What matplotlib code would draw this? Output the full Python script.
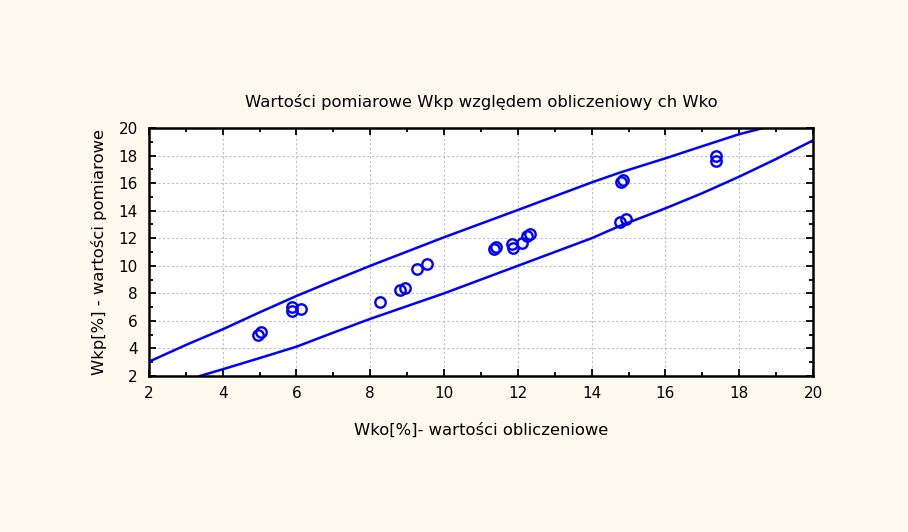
import numpy as np
import matplotlib.pyplot as plt
from matplotlib.ticker import MultipleLocator

# measured vs computed values
wko = [4.95, 5.05, 5.87, 5.87, 6.12, 8.26, 8.80, 8.94, 9.27, 9.53,
       11.35, 11.42, 11.85, 11.87, 12.12, 12.25, 12.32,
       14.80, 14.85, 14.76, 14.93, 17.38, 17.38]
wkp = [4.95, 5.20, 6.72, 6.98, 6.85, 7.39, 8.24, 8.37, 9.75, 10.13,
       11.20, 11.35, 11.56, 11.27, 11.63, 12.15, 12.29,
       16.05, 16.25, 13.20, 13.38, 17.99, 17.60]

# band lines
upper_x = [2.0, 3.0, 4.0, 5.0, 6.0, 7.0, 8.0, 10.0, 12.0, 14.0, 14.76, 16.0, 17.0, 18.0, 18.65]
upper_y = [3.04, 4.25, 5.39, 6.62, 7.81, 8.92, 10.0, 12.07, 14.05, 16.05, 16.76, 17.8, 18.68, 19.55, 20.0]
lower_x = [3.38, 4.0, 5.0, 6.0, 7.0, 8.0, 10.0, 12.0, 14.0, 14.76, 16.0, 17.0, 18.0, 19.0, 20.0]
lower_y = [2.0, 2.49, 3.3, 4.13, 5.15, 6.15, 8.0, 10.0, 12.0, 12.89, 14.17, 15.27, 16.47, 17.75, 19.1]

bg = '#fef9ee'
plt.rcParams['font.family'] = ['DejaVu Sans']

fig = plt.figure(figsize=(9.08, 5.32), dpi=100, facecolor=bg)
ax = fig.add_axes([0.164, 0.2932, 0.7314, 0.4662])
ax.set_facecolor('white')

ax.plot(upper_x, upper_y, color='#0000ff', lw=1.8)
ax.plot(lower_x, lower_y, color='#0000ff', lw=1.8)
ax.plot(wko, wkp, 'o', ms=7.5, mfc='none', mec='#0000ff', mew=1.7)

ax.set_xlim(2, 20)
ax.set_ylim(2, 20)
ax.xaxis.set_major_locator(MultipleLocator(2))
ax.xaxis.set_minor_locator(MultipleLocator(1))
ax.yaxis.set_major_locator(MultipleLocator(2))
ax.yaxis.set_minor_locator(MultipleLocator(1))
ax.tick_params(which='both', direction='in', top=True, right=True,
               labelsize=11, colors='black', width=1.3)
ax.tick_params(which='major', length=5, pad=7)
ax.tick_params(axis='y', which='major', pad=8)
ax.tick_params(which='minor', length=3)
ax.grid(True, which='major', color='#c0c0c0', lw=0.8, ls=(0, (2, 2)))
for s in ax.spines.values():
    s.set_linewidth(1.8)

ax.set_title('Wartości pomiarowe Wkp względem obliczeniowy ch Wko', fontsize=11.8, pad=15)
ax.set_xlabel('Wko[%]- wartości obliczeniowe', fontsize=11.8, labelpad=16)
ax.set_ylabel('Wkp[%] - wartości pomiarowe', fontsize=11.8, labelpad=8)

fig.savefig('out.png', dpi=100, facecolor=bg)
